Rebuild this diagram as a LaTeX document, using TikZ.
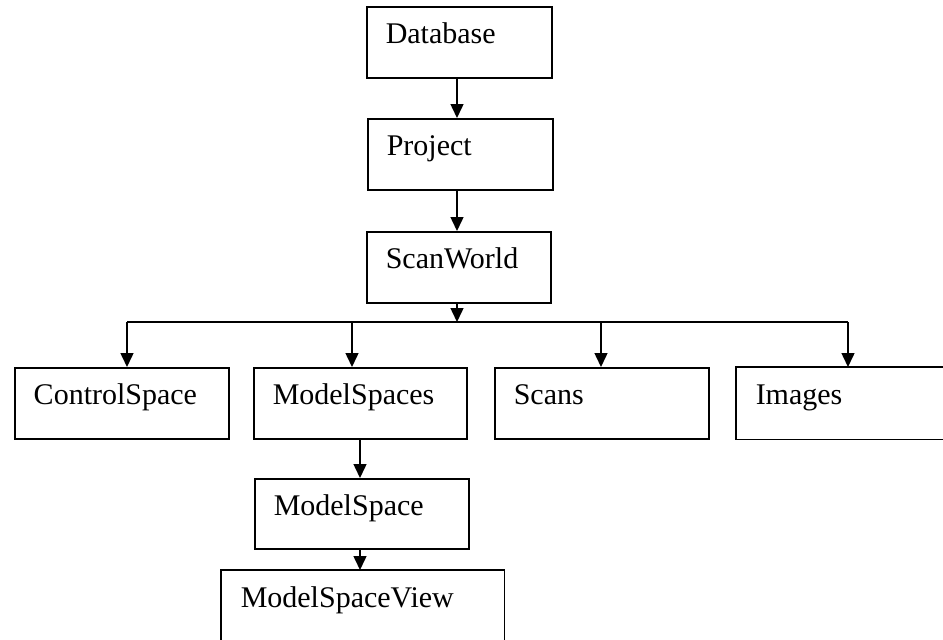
\documentclass[tikz,border=0pt]{standalone}
\usepackage{fontspec}
\setmainfont{Liberation Serif}
\usetikzlibrary{arrows.meta}
\tikzset{
  box/.style={draw, line width=1.5pt, rectangle, anchor=north west, inner xsep=19pt, inner ysep=0pt,
    align=left, text height=37pt, text depth=34pt, font=\fontsize{30}{36}\selectfont},
  openbox/.style={box, draw=none},
  edge/.style={line width=1.5pt},
  arr/.style={line width=1.5pt, -{Triangle[length=14pt,width=13pt]}},
  bus/.style={line width=1.5pt}
}
\begin{document}
\begin{tikzpicture}[x=1pt,y=-1pt]
\useasboundingbox (0,0) rectangle (943,640);
\clip (0,0) rectangle (943,640);
\node[box, text width=147pt] (db) at (366,6) {Database};
\node[box, text width=147pt] (proj) at (367,118) {Project};
\node[box, text width=146pt] (sw) at (366,231) {ScanWorld};
\node[box, text width=176pt] (cs) at (14,367) {ControlSpace};
\node[box, text width=175pt] (mss) at (253,367) {ModelSpaces};
\node[box, text width=176pt] (scans) at (494,367) {Scans};
\node[openbox, text width=200pt] (img) at (736,367) {Images};
\draw[edge] (img.north east) -- (img.north west) -- (img.south west) -- (img.south east);
\node[box, text width=176pt, text depth=33pt] (ms) at (254,478) {ModelSpace};
\node[openbox, text width=244pt, text depth=60pt] (msv) at (221,570) {ModelSpaceView};
\draw[edge] (msv.south west) -- (msv.north west) -- (msv.north east) -- (msv.south east);
\coordinate (c1) at (457,0);
\draw[arr] (c1 |- db.south) -- (c1 |- proj.north);
\draw[arr] (c1 |- proj.south) -- (c1 |- sw.north);
\coordinate (b0) at (457,322);
\coordinate (bL) at (127,322);
\coordinate (b2) at (352,322);
\coordinate (b3) at (601,322);
\coordinate (bR) at (848,322);
\draw[arr] (b0 |- sw.south) -- (b0);
\draw[bus] (bL) -- (bR);
\draw[arr] (bL) -- (bL |- cs.north);
\draw[arr] (b2) -- (b2 |- mss.north);
\draw[arr] (b3) -- (b3 |- scans.north);
\draw[arr] (bR) -- (bR |- img.north);
\coordinate (c2) at (360,0);
\draw[arr] (c2 |- mss.south) -- (c2 |- ms.north);
\draw[arr] (c2 |- ms.south) -- (c2 |- msv.north);
\end{tikzpicture}
\end{document}
